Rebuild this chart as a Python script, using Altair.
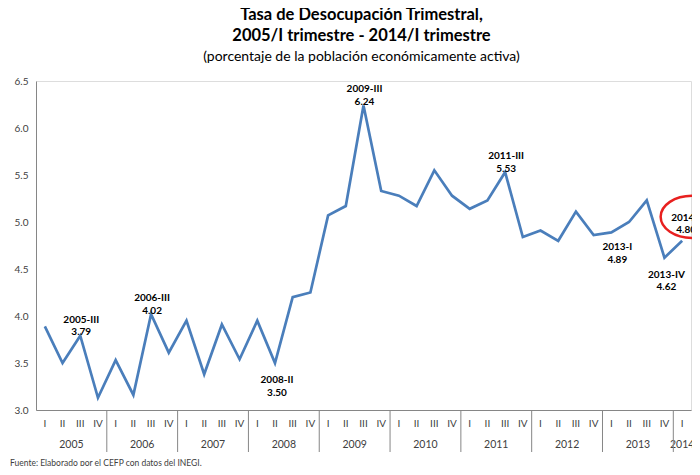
import altair as alt
import pandas as pd

# ---- data ----
years = ["2005", "2006", "2007", "2008", "2009", "2010", "2011", "2012", "2013", "2014"]
quarters_per_year = [4, 4, 4, 4, 4, 4, 4, 4, 4, 1]
roman = ["I", "II", "III", "IV"]
values = [
    3.89, 3.50, 3.79, 3.13,   # 2005
    3.53, 3.16, 4.02, 3.61,   # 2006
    3.95, 3.38, 3.91, 3.54,   # 2007
    3.95, 3.50, 4.20, 4.25,   # 2008
    5.07, 5.17, 6.24, 5.33,   # 2009
    5.28, 5.17, 5.55, 5.28,   # 2010
    5.14, 5.23, 5.53, 4.84,   # 2011
    4.91, 4.80, 5.11, 4.86,   # 2012
    4.89, 5.00, 5.23, 4.62,   # 2013
    4.80,                     # 2014
]
labels_above = ["2005-III", "2006-III", "2009-III", "2011-III"]
labels_below = ["2008-II", "2013-IV"]
label_right_below = ["2013-I"]
label_circled = ["2014-I"]
source_text = "Fuente: Elaborado por el CEFP con datos del INEGI."

# ---- tables ----
rows = []
idx = 0
for y, n in zip(years, quarters_per_year):
    for q in range(n):
        rows.append({"pos": idx + 0.5, "q": roman[q], "year": y,
                     "period": f"{y}-{roman[q]}", "value": values[idx]})
        idx += 1
df = pd.DataFrame(rows)
df["label"] = df["period"] + "\n" + df["value"].map(lambda v: f"{v:.2f}")
n_total = len(df)

year_rows = []
start = 0
for y, n in zip(years, quarters_per_year):
    year_rows.append({"year": y, "center": start + n / 2, "start": start})
    start += n
ydf = pd.DataFrame(year_rows)
sep_df = ydf[ydf["start"] > 0]

W, H = 655, 329
FONT = "Lato"
GREY_TXT = "#404040"
AXIS_GREY = "#868686"

xs = alt.Scale(domain=[0, n_total], nice=False, zero=False)
ys = alt.Scale(domain=[3.0, 6.5], nice=False, zero=False)

base = alt.Chart(df)

line = base.mark_line(color="#4A7EBB", strokeWidth=2.7).encode(
    x=alt.X("pos:Q", scale=xs,
            axis=alt.Axis(labels=False, ticks=False, grid=False, title=None,
                          domainColor=AXIS_GREY, domainWidth=1)),
    y=alt.Y("value:Q", scale=ys,
            axis=alt.Axis(values=[3.0, 3.5, 4.0, 4.5, 5.0, 5.5, 6.0, 6.5], format=".1f",
                          ticks=False, tickSize=0, grid=False, title=None,
                          labelPadding=8, labelFontSize=10, labelColor=GREY_TXT,
                          labelFont=FONT, domainColor=AXIS_GREY, domainWidth=1)),
)

def ann(periods, dx, dy):
    return base.transform_filter(
        alt.FieldOneOfPredicate(field="period", oneOf=periods)
    ).mark_text(fontSize=10, fontWeight="bold", font=FONT, color="black",
                lineBreak="\n", lineHeight=12.5, baseline="middle", align="center",
                dx=dx, dy=dy).encode(
        x=alt.X("pos:Q", scale=xs), y=alt.Y("value:Q", scale=ys), text="label:N")

t_above = ann(labels_above, 1, -16)
t_below = ann(labels_below, 2, 17)
t_rb = ann(label_right_below, 6, 15)
t_circ = ann(label_circled, 4, -23)

circle = base.transform_filter(
    alt.FieldOneOfPredicate(field="period", oneOf=label_circled)
).mark_point(shape="M-1,0A1,0.67,0,1,1,1,0A1,0.67,0,1,1,-1,0Z", size=3969,
             filled=False, stroke="#E8201F", strokeWidth=2.5, opacity=1,
             xOffset=10, yOffset=-24).encode(
    x=alt.X("pos:Q", scale=xs), y=alt.Y("value:Q", scale=ys))

q_labels = base.mark_text(fontSize=10, font=FONT, color=GREY_TXT, baseline="middle").encode(
    x=alt.X("pos:Q", scale=xs), y=alt.value(H + 14), text="q:N")

y_labels = alt.Chart(ydf).mark_text(fontSize=10.5, font=FONT, color=GREY_TXT, baseline="middle").encode(
    x=alt.X("center:Q", scale=xs), y=alt.value(H + 35), text="year:N")

seps = alt.Chart(sep_df).mark_rule(color=AXIS_GREY, strokeWidth=1).encode(
    x=alt.X("start:Q", scale=xs), y=alt.value(H), y2=alt.value(H + 42))

footer = alt.Chart(pd.DataFrame({"t": [source_text]})).mark_text(
    fontSize=8.5, font=FONT, color=GREY_TXT, align="left", baseline="middle").encode(
    x=alt.value(-26), y=alt.value(H + 53), text="t:N")

chart = alt.layer(line, t_above, t_below, t_rb, t_circ, circle, q_labels, y_labels, seps, footer).properties(
    width=W, height=H,
    title=alt.TitleParams(
        text=["Tasa de Desocupación Trimestral,", "2005/I trimestre - 2014/I trimestre"],
        subtitle="(porcentaje de la población económicamente activa)",
        font=FONT, fontSize=16.5, fontWeight="bold", color="black", lineHeight=21,
        subtitleFont=FONT, subtitleFontSize=14, subtitleColor="black", subtitlePadding=6,
        anchor="middle", dx=-2, offset=12),
    autosize=alt.AutoSizeParams(type="none"),
    padding={"left": 28, "top": 73, "right": 1, "bottom": 56},
).configure_view(stroke=None).configure(font=FONT)

chart.save("out.html", embed_options={"renderer": "svg", "actions": False})
